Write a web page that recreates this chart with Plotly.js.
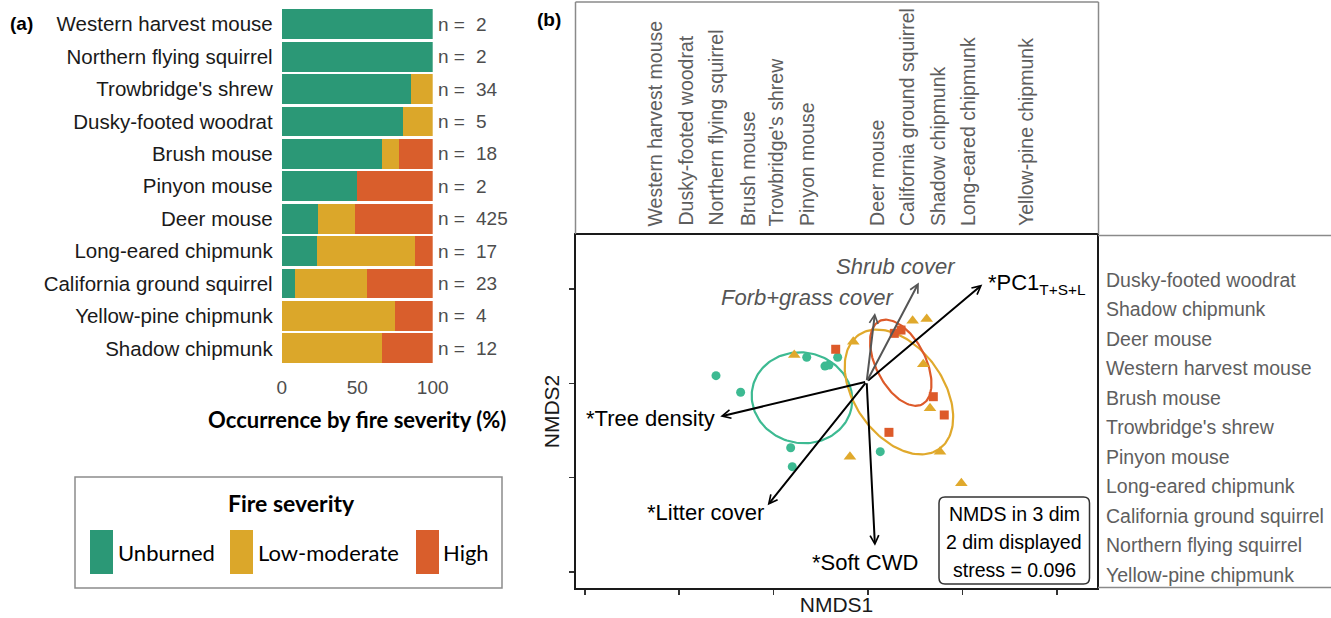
<!DOCTYPE html>
<html><head><meta charset="utf-8">
<script src="https://cdn.plot.ly/plotly-3.0.1.min.js"></script>
<style>html,body{margin:0;padding:0;background:#fff;} #chart{width:1331px;height:618px;}</style>
</head><body><div id="chart"></div>
<script>
// ---------------- Panel (a) data ----------------
const species = ["Western harvest mouse","Northern flying squirrel","Trowbridge's shrew","Dusky-footed woodrat","Brush mouse","Pinyon mouse","Deer mouse","Long-eared chipmunk","California ground squirrel","Yellow-pine chipmunk","Shadow chipmunk"];
const unburnedPct    = [100, 100, 85.3, 80, 66.7, 50, 23.8, 23.5,  8.7,  0,    0];
const lowModeratePct = [0,   0,   14.7, 20, 11.1, 0,  25.0, 64.7, 47.8, 75.0, 66.7];
const highPct        = [0,   0,   0,    0,  22.2, 50, 51.2, 11.8, 43.5, 25.0, 33.3];
const nObs = [2, 2, 34, 5, 18, 2, 425, 17, 23, 4, 12];
const severityNames = ["Unburned", "Low-moderate", "High"];
const pctTicks = [0, 50, 100];

// ---------------- Panel (b) data (NMDS scores, axis units) ----------------
const unburnedSitesX = [-1.610, -1.349, -0.649, -0.456, -0.413, -0.321, -0.819, -0.802, 0.130];
const unburnedSitesY = [ 0.081, -0.095,  0.276,  0.183,  0.194,  0.276, -0.683, -0.884, -0.725];
const lowModSitesX = [-0.781, -0.156, 0.473, 0.622, 0.586, 0.657, -0.191, 0.763, 0.989];
const lowModSitesY = [ 0.300,  0.441, 0.664, 0.682, 0.201, -0.265, -0.778, -0.725, -1.060];
const highSitesX = [-0.342, 0.279, 0.350, 0.692, 0.808, 0.222];
const highSitesY = [ 0.361, 0.530, 0.565, -0.142, -0.336, -0.520];

// ellipse parameters: centre x, centre y, semi-axis a, semi-axis b, rotation (deg)
const ellipseUnburned = [-0.699, -0.154, 0.535, 0.480, -12];
const ellipseLowMod   = [ 0.328, -0.092, 0.740, 0.470, -54.7];
const ellipseHigh     = [ 0.347,  0.218, 0.496, 0.262, -62.7];

// environmental vectors
const vectorOrigin = [-0.014, 0.017];
const vectorNames = ["Tree density", "PC1", "Shrub cover", "Forb+grass cover", "Litter cover", "Soft CWD"];
const vectorTipX = [-1.565, 1.211, 0.539, 0.074, -1.063, 0.074];
const vectorTipY = [-0.352, 1.047, 1.070, 0.746, -1.294, -1.724];
const vectorSignificant = [true, true, false, false, true, true];

// species ordered along NMDS1 (top) and NMDS2 (right)
const speciesNMDS1 = ["Western harvest mouse","Dusky-footed woodrat","Northern flying squirrel","Brush mouse","Trowbridge's shrew","Pinyon mouse","Deer mouse","California ground squirrel","Shadow chipmunk","Long-eared chipmunk","Yellow-pine chipmunk"];
const speciesNMDS1Score = [-2.251, -1.933, -1.614, -1.275, -0.975, -0.646, 0.095, 0.413, 0.742, 1.054, 1.674];
const speciesNMDS2 = ["Dusky-footed woodrat","Shadow chipmunk","Deer mouse","Western harvest mouse","Brush mouse","Trowbridge's shrew","Pinyon mouse","Long-eared chipmunk","California ground squirrel","Northern flying squirrel","Yellow-pine chipmunk"];
const stressLines = ["NMDS in 3 dim", "2 dim displayed", "stress = 0.096"];

// ---------------- build ----------------
const W = 1331, H = 618;
const fx = p => p / W, fy = p => 1 - p / H;
const SANS = "Liberation Sans, Arial, sans-serif";
const CAL = "Lato, Carlito, Calibri, sans-serif";
const barColors = ["#2b9876", "#dba72a", "#d95e2c"];
const ptColors = ["#3dba92", "#e0a92c", "#dd5a2a"];

function ellipsePts(p) {
  const [cx, cy, a, b, ang] = p; const t = ang * Math.PI / 180;
  const xs = [], ys = [];
  for (let i = 0; i <= 160; i++) {
    const u = 2 * Math.PI * i / 160, ex = a * Math.cos(u), ey = b * Math.sin(u);
    xs.push(cx + ex * Math.cos(t) - ey * Math.sin(t));
    ys.push(cy + ex * Math.sin(t) + ey * Math.cos(t));
  }
  return {xs, ys};
}

const traces = [];
[unburnedPct, lowModeratePct, highPct].forEach((vals, i) => {
  traces.push({type: 'bar', orientation: 'h', name: severityNames[i], y: species, x: vals,
    marker: {color: barColors[i], line: {width: 0}}, xaxis: 'x', yaxis: 'y', hoverinfo: 'x+y'});
});
[ellipseUnburned, ellipseLowMod, ellipseHigh].forEach((p, i) => {
  const e = ellipsePts(p);
  traces.push({type: 'scatter', mode: 'lines', x: e.xs, y: e.ys, xaxis: 'x2', yaxis: 'y2',
    line: {color: ptColors[i], width: 2.2}, hoverinfo: 'skip'});
});
const siteSets = [[unburnedSitesX, unburnedSitesY, 'circle', 9], [lowModSitesX, lowModSitesY, 'triangle-up', 11], [highSitesX, highSitesY, 'square', 9]];
siteSets.forEach((s, i) => {
  traces.push({type: 'scatter', mode: 'markers', x: s[0], y: s[1], xaxis: 'x2', yaxis: 'y2',
    marker: {symbol: s[2], size: s[3], color: ptColors[i], line: {width: 0}}, name: severityNames[i]});
});

const ann = [];
function pAnn(x, y, text, font, xa, extra) {
  return Object.assign({xref: 'paper', yref: 'paper', x: fx(x), y: fy(y), text: text, showarrow: false,
    xanchor: xa || 'center', yanchor: 'middle', font: font}, extra || {});
}
// panel labels
ann.push(pAnn(21, 24, '(a)', {family: SANS, size: 19, color: '#000', weight: 'bold'}));
ann.push(pAnn(549, 20, '(b)', {family: SANS, size: 19, color: '#000', weight: 'bold'}));
// n = labels
species.forEach((s, i) => {
  ann.push({xref: 'paper', yref: 'y', x: fx(436), y: s, text: 'n =', xanchor: 'left', yanchor: 'middle', showarrow: false, font: {family: SANS, size: 19, color: '#4d4d4d'}});
  ann.push({xref: 'paper', yref: 'y', x: fx(474), y: s, text: String(nObs[i]), xanchor: 'left', yanchor: 'middle', showarrow: false, font: {family: SANS, size: 19, color: '#4d4d4d'}});
});
// legend
ann.push(pAnn(291, 503, 'Fire severity', {family: CAL, size: 23, color: '#000', weight: 'bold'}));
const legX = [116, 256, 441];
severityNames.forEach((n, i) => {
  ann.push(pAnn(legX[i], 552, n, {family: CAL, size: 22, color: '#000'}, 'left'));
});
// vectors
vectorNames.forEach((n, i) => {
  ann.push({xref: 'x2', yref: 'y2', axref: 'x2', ayref: 'y2', x: vectorTipX[i], y: vectorTipY[i],
    ax: vectorOrigin[0], ay: vectorOrigin[1], text: '', showarrow: true, arrowhead: 5, arrowsize: 0.85,
    arrowwidth: 2, standoff: 0, startstandoff: 0, arrowcolor: vectorSignificant[i] ? '#000' : '#555'});
});
const vFont = {family: SANS, size: 22, color: '#000'};
const gFont = {family: SANS, size: 22, color: '#555', style: 'italic'};
function dAnn(x, y, text, font, xa) {
  return {xref: 'x2', yref: 'y2', x: x, y: y, text: text, showarrow: false, xanchor: xa, yanchor: 'middle', font: font};
}
ann.push(dAnn(-1.595, -0.368, '*Tree density', vFont, 'right'));
ann.push(dAnn(-1.085, -1.375, '*Litter cover', vFont, 'right'));
ann.push(dAnn(-0.035, -1.905, '*Soft CWD', vFont, 'center'));
ann.push(dAnn(1.25, 1.055, '*PC1<sub>T+S+L</sub>', vFont, 'left'));
ann.push(dAnn(0.302, 1.239, 'Shrub cover', gFont, 'center'));
ann.push(dAnn(-0.646, 0.909, 'Forb+grass cover', gFont, 'center'));
// stress box text
stressLines.forEach((t, i) => {
  ann.push(pAnn(1014, 513.5 + i * 28.3, t, {family: SANS, size: 19.5, color: '#000'}));
});
// species along NMDS1 (top panel)
speciesNMDS1.forEach((s, i) => {
  ann.push({xref: 'x2', yref: 'paper', x: speciesNMDS1Score[i], y: fy(228), yanchor: 'bottom', xanchor: 'center', textangle: -90,
    text: s, showarrow: false, font: {family: SANS, size: 19.5, color: '#5e5e5e'}});
});
// species along NMDS2 (right panel)
speciesNMDS2.forEach((s, i) => {
  ann.push(pAnn(1104, 280 + i * 29.45, s, {family: SANS, size: 19.5, color: '#5e5e5e'}, 'left'));
});

// shapes
const shapes = [];
shapes.push({type: 'rect', xref: 'paper', yref: 'paper', x0: fx(75), x1: fx(502), y0: fy(477), y1: fy(588), line: {color: '#8c8c8c', width: 1.5}});
[90, 230, 416].forEach((x, i) => {
  shapes.push({type: 'rect', xref: 'paper', yref: 'paper', x0: fx(x), x1: fx(x + 23), y0: fy(530), y1: fy(574), fillcolor: barColors[i], line: {width: 0}});
});
const gray = '#8a8a8a';
shapes.push({type: 'line', xref: 'paper', yref: 'paper', x0: fx(575.5), x1: fx(1098.5), y0: fy(2), y1: fy(2), line: {color: gray, width: 1.5}});
shapes.push({type: 'line', xref: 'paper', yref: 'paper', x0: fx(575.5), x1: fx(575.5), y0: fy(2), y1: fy(234), line: {color: gray, width: 1.5}});
shapes.push({type: 'line', xref: 'paper', yref: 'paper', x0: fx(1098.5), x1: fx(1098.5), y0: fy(2), y1: fy(234), line: {color: gray, width: 1.5}});
shapes.push({type: 'line', xref: 'paper', yref: 'paper', x0: fx(1098), x1: fx(1331), y0: fy(235.5), y1: fy(235.5), line: {color: gray, width: 1.5}});
shapes.push({type: 'line', xref: 'paper', yref: 'paper', x0: fx(1098), x1: fx(1331), y0: fy(587.5), y1: fy(587.5), line: {color: gray, width: 1.5}});
(function () {
  const x0 = 939, x1 = 1089.5, y0 = 497, y1 = 584, r = 6;
  const P = (x, y) => fx(x) + ',' + fy(y);
  const path = 'M' + P(x0 + r, y0) + ' L' + P(x1 - r, y0) + ' Q' + P(x1, y0) + ' ' + P(x1, y0 + r) +
    ' L' + P(x1, y1 - r) + ' Q' + P(x1, y1) + ' ' + P(x1 - r, y1) + ' L' + P(x0 + r, y1) +
    ' Q' + P(x0, y1) + ' ' + P(x0, y1 - r) + ' L' + P(x0, y0 + r) + ' Q' + P(x0, y0) + ' ' + P(x0 + r, y0) + ' Z';
  shapes.push({type: 'path', xref: 'paper', yref: 'paper', path: path, line: {color: '#333', width: 1.5}, fillcolor: '#fff', layer: 'above'});
})();

const layout = {
  width: W, height: H, margin: {l: 0, r: 0, t: 0, b: 0}, paper_bgcolor: '#fff', plot_bgcolor: 'rgba(0,0,0,0)',
  showlegend: false, barmode: 'stack', bargap: 0.08, font: {family: SANS},
  xaxis: {domain: [fx(281.7), fx(432.7)], range: [0, 100], anchor: 'y', tickvals: pctTicks, ticks: '',
    showgrid: false, zeroline: false, showline: false, ticklabelstandoff: 9,
    tickfont: {family: SANS, size: 19, color: '#4d4d4d'},
    title: {text: 'Occurrence by fire severity (%)', standoff: 16, font: {family: CAL, size: 22, color: '#000', weight: 'bold'}}},
  yaxis: {domain: [fy(364.6), fy(8)], anchor: 'x', type: 'category', categoryorder: 'array', categoryarray: species,
    autorange: 'reversed', ticks: '', showgrid: false, zeroline: false, showline: false, ticklabelstandoff: 8,
    tickfont: {family: SANS, size: 20.5, color: '#1a1a1a'}},
  xaxis2: {domain: [fx(576), fx(1097)], range: [-3.093, 2.426], anchor: 'y2', tickvals: [-3, -2, -1, 0, 1, 2],
    showticklabels: false, ticks: 'outside', ticklen: 5, tickwidth: 1.5, tickcolor: '#333', showline: true,
    linecolor: '#1a1a1a', linewidth: 2, mirror: true, showgrid: false, zeroline: false,
    title: {text: 'NMDS1', standoff: 3, font: {family: SANS, size: 21, color: '#1a1a1a'}}},
  yaxis2: {domain: [fy(588), fy(235)], range: [-2.171, 1.573], anchor: 'x2', tickvals: [-2, -1, 0, 1],
    showticklabels: false, ticks: 'outside', ticklen: 5, tickwidth: 1.5, tickcolor: '#333', showline: true,
    linecolor: '#1a1a1a', linewidth: 2, mirror: true, showgrid: false, zeroline: false,
    title: {text: 'NMDS2', standoff: 4, font: {family: SANS, size: 21, color: '#1a1a1a'}}},
  annotations: ann, shapes: shapes
};
Plotly.newPlot('chart', traces, layout, {staticPlot: true, displayModeBar: false});
</script></body></html>
